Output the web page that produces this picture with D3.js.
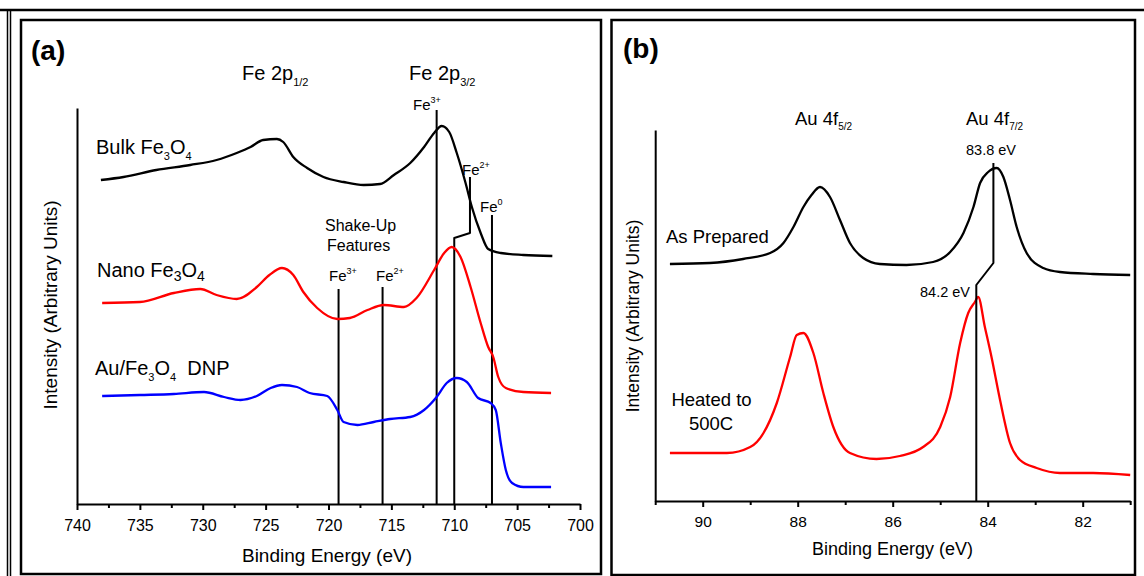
<!DOCTYPE html>
<html>
<head>
<meta charset="utf-8">
<script src="https://cdn.jsdelivr.net/npm/d3@7"></script>
<style>
  html, body { margin: 0; padding: 0; background: #fff; }
  svg { display: block; }
  text { font-family: "Liberation Sans", Arial, Helvetica, sans-serif; fill: #000; }
</style>
</head>
<body>
<svg id="chart" width="1144" height="576"></svg>
<script>
// ---------- DATA: panel (a) Fe 2p, [binding energy eV, intensity a.u.] ----------
const bulkFe3O4 = [
  [738.1,324],[736.3,327],[733.7,334],[731.0,339],[728.9,344],[727.3,351],[726.2,357],
  [725.2,364],[724.1,365],[723.6,362],[722.8,347],[721.7,336],[720.4,327],[718.8,322],
  [717.2,319],[715.9,320],[714.8,329],[713.5,341],[712.4,357],[711.6,371],[711.0,378],
  [710.4,372],[709.8,351],[709.1,321],[708.6,297],[707.9,271],[707.3,255],[706.3,251],
  [704.5,249],[702.2,248]
];
const nanoFe3O4 = [
  [738.0,201],[735.0,202],[732.3,211],[730.2,215],[728.9,209],[727.3,205],[725.7,217],
  [724.7,229],[723.7,236],[722.8,229],[722.0,212],[720.9,196],[719.3,185],[718.3,186],
  [716.9,194],[715.6,199],[714.0,197],[713.0,206],[711.6,234],[710.8,251],[710.2,257],
  [709.5,247],[708.7,217],[707.9,181],[707.3,157],[706.9,147],[706.5,127],[705.9,116],
  [704.5,112],[702.3,111]
];
const auFe3O4DNP = [
  [738.0,108],[735.0,109],[732.3,110],[729.9,112],[728.3,107],[727.0,104],[725.7,108],
  [724.6,116],[723.7,119],[722.5,117],[721.5,111],[720.1,108],[719.3,94],[718.8,82],
  [717.7,79],[716.4,82],[715.1,85],[713.5,87],[712.4,94],[711.4,107],[710.6,121],
  [709.8,126],[709.0,122],[708.1,106],[707.1,101],[706.7,94],[706.3,61],[705.9,34],
  [705.4,21],[704.5,17],[702.3,17]
];
// annotation marker lines in (a)
const markShakeFe3 = [[719.2,0],[719.2,215]];
const markShakeFe2 = [[715.7,0],[715.7,217]];
const markFe3 = [[711.4,0],[711.4,394]];
const markFe2 = [[710.0,0],[710.0,266],[708.75,271],[708.75,327]];
const markFe0 = [[707.0,0],[707.0,289]];
const ticksA = [740,735,730,725,720,715,710,705,700];
const minorTicksA = [737.5,732.5,727.5,722.5,717.5,712.5,707.5,702.5];

// ---------- DATA: panel (b) Au 4f ----------
const asPrepared = [
  [90.69,237],[89.85,238],[89.15,242],[88.58,248],[88.30,258],[88.09,274],[87.88,294],
  [87.71,306],[87.53,314],[87.32,304],[87.11,281],[86.90,258],[86.62,243],[86.27,237],
  [85.71,236],[85.15,239],[84.79,249],[84.51,268],[84.30,294],[84.16,318],[83.99,329],
  [83.81,333],[83.67,324],[83.53,301],[83.39,274],[83.18,248],[82.83,233],[82.48,229],
  [81.78,227],[81.00,226]
];
const heated500C = [
  [90.69,48],[89.49,48],[89.00,54],[88.72,68],[88.44,98],[88.16,144],[88.02,166],
  [87.88,168],[87.67,148],[87.46,108],[87.25,74],[86.90,48],[86.34,42],[85.85,45],
  [85.36,54],[85.00,74],[84.79,104],[84.58,158],[84.41,188],[84.27,199],[84.20,204],
  [84.06,174],[83.92,144],[83.74,101],[83.53,58],[83.32,41],[82.97,33],[82.48,28],
  [81.78,28],[81.00,26]
];
const markAu = [[83.88,338],[83.88,238],[84.24,216],[84.24,0]];
const ticksB = [90,88,86,84,82];
const minorTicksB = [91,89,87,85,83,81];

// ---------- DRAW ----------
const svg = d3.select("#chart");
const FONT = '"Liberation Sans", Arial, Helvetica, sans-serif';

// frames
svg.append("line").attr("x1",0).attr("x2",1144).attr("y1",10).attr("y2",10).attr("stroke","#000").attr("stroke-width",2.5);
svg.append("line").attr("x1",7.5).attr("x2",7.5).attr("y1",10).attr("y2",576).attr("stroke","#000").attr("stroke-width",1.5);
svg.append("line").attr("x1",10.5).attr("x2",10.5).attr("y1",10).attr("y2",576).attr("stroke","#000").attr("stroke-width",1.5);
svg.append("rect").attr("x",21).attr("y",20).attr("width",580).attr("height",554)
  .attr("fill","none").attr("stroke","#000").attr("stroke-width",2.5);
svg.append("rect").attr("x",611.5).attr("y",20).attr("width",523.5).attr("height",555)
  .attr("fill","none").attr("stroke","#000").attr("stroke-width",2.5);

// scales
const xA = d3.scaleLinear().domain([740,700]).range([77,580]);
const yA = d3.scaleLinear().domain([0,396]).range([504,108]);
const xB = d3.scaleLinear().domain([91,81]).range([655.2,1130.2]);
const yB = d3.scaleLinear().domain([0,371]).range([501,130]);

function drawAxes(x, y, ticks, minor, size, pad) {
  const g = svg.append("g").attr("transform", `translate(0,${y.range()[0]})`);
  g.call(d3.axisBottom(x).tickValues(ticks).tickSize(6).tickSizeOuter(0).tickPadding(pad).tickFormat(d3.format("d")));
  g.selectAll("text").attr("font-size", size).attr("font-family", FONT).attr("fill","#000");
  g.selectAll("line,path").attr("stroke","#000").attr("stroke-width",2);
  const gm = svg.append("g").attr("transform", `translate(0,${y.range()[0]})`);
  gm.call(d3.axisBottom(x).tickValues(minor).tickSize(4).tickFormat(""));
  gm.select(".domain").remove();
  gm.selectAll("line").attr("stroke","#000").attr("stroke-width",2);
  const gy = svg.append("g").attr("transform", `translate(${x.range()[0]},0)`);
  gy.call(d3.axisLeft(y).tickValues([]).tickSizeOuter(0));
  gy.selectAll("path").attr("stroke","#000").attr("stroke-width",2);
}
drawAxes(xA, yA, ticksA, minorTicksA, 16, 9.3);
drawAxes(xB, yB, ticksB, minorTicksB, 15.5, 8.8);

function path(data, x, y, color, w, smooth) {
  const gen = d3.line().x(d => x(d[0])).y(d => y(d[1]));
  if (smooth) gen.curve(d3.curveMonotoneX);
  svg.append("path").datum(data)
    .attr("d", gen)
    .attr("fill","none").attr("stroke",color).attr("stroke-width",w)
    .attr("stroke-linejoin","round");
}
// marker lines (a)
[markShakeFe3, markShakeFe2, markFe3, markFe2, markFe0].forEach(m => path(m, xA, yA, "#000", 2, false));
// curves (a)
path(bulkFe3O4, xA, yA, "#000", 2.3, true);
path(nanoFe3O4, xA, yA, "#ff0000", 2.3, true);
path(auFe3O4DNP, xA, yA, "#0000ff", 2.3, true);
// curves (b)
path(asPrepared, xB, yB, "#000", 2.3, true);
path(heated500C, xB, yB, "#ff0000", 2.3, true);
path(markAu, xB, yB, "#000", 2, false);

// rich text helper: parts = [[text, size, dy]]
function rich(x, y, parts, anchor) {
  const t = svg.append("text").attr("x", x).attr("y", y).attr("text-anchor", anchor || "start");
  parts.forEach(p => t.append("tspan").text(p[0]).attr("font-size", p[1]).attr("dy", p[2] || 0));
  return t;
}

// ---- panel (a) texts ----
svg.append("text").attr("x",31).attr("y",60).attr("font-size",28).attr("font-weight","bold").text("(a)");
rich(242, 80, [["Fe 2p",20],["1/2",11,6]]);
rich(409, 80, [["Fe 2p",20],["3/2",11,6]]);
rich(413, 110, [["Fe",15],["3+",9,-7]]);
rich(462, 175, [["Fe",15],["2+",9,-7]]);
rich(480, 212, [["Fe",15],["0",9,-7]]);
svg.append("text").attr("x",325).attr("y",231).attr("font-size",16).text("Shake-Up");
svg.append("text").attr("x",327).attr("y",251).attr("font-size",16).text("Features");
rich(329, 281, [["Fe",15],["3+",9,-7]]);
rich(376, 281, [["Fe",15],["2+",9,-7]]);
rich(96, 154, [["Bulk Fe",20],["3",11,6],["O",20,-6],["4",11,6]]);
rich(97, 277, [["Nano Fe",20],["3",14,4],["O",20,-4],["4",14,4]]);
rich(95, 375, [["Au/Fe",20],["3",11,6],["O",20,-6],["4",11,6],["\u00A0 DNP",20,-6]]);
svg.append("text").attr("transform","translate(57,305) rotate(-90)").attr("text-anchor","middle")
  .attr("font-size",19).text("Intensity (Arbitrary Units)");
svg.append("text").attr("x",327).attr("y",562).attr("text-anchor","middle").attr("font-size",19).text("Binding Energy (eV)");

// ---- panel (b) texts ----
svg.append("text").attr("x",623).attr("y",58).attr("font-size",28).attr("font-weight","bold").text("(b)");
rich(795, 125, [["Au 4f",18.5],["5/2",10,5]]);
rich(966, 125, [["Au 4f",18.5],["7/2",10,5]]);
svg.append("text").attr("x",991).attr("y",155).attr("text-anchor","middle").attr("font-size",14.5).text("83.8 eV");
svg.append("text").attr("x",970).attr("y",297).attr("text-anchor","end").attr("font-size",14.5).text("84.2 eV");
svg.append("text").attr("x",666).attr("y",243).attr("font-size",18.5).text("As Prepared");
svg.append("text").attr("x",711.5).attr("y",406).attr("text-anchor","middle").attr("font-size",18.5).text("Heated to");
svg.append("text").attr("x",711).attr("y",430).attr("text-anchor","middle").attr("font-size",18.5).text("500C");
svg.append("text").attr("transform","translate(639,316) rotate(-90)").attr("text-anchor","middle")
  .attr("font-size",17.5).text("Intensity (Arbitrary Units)");
svg.append("text").attr("x",892.5).attr("y",555).attr("text-anchor","middle").attr("font-size",18).text("Binding Energy (eV)");
</script>
</body>
</html>
